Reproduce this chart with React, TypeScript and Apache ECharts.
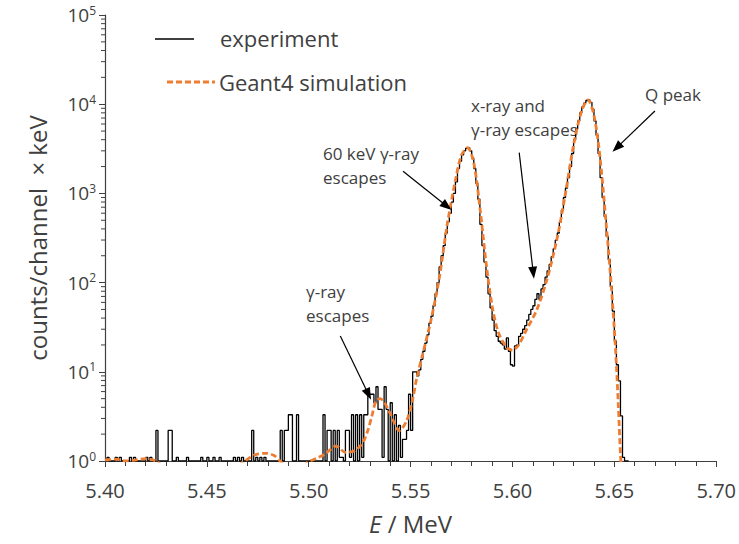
import React, { useEffect, useRef } from "react";
import * as echarts from "echarts";

// ---------------- data ----------------
// experiment: counts per 1 keV channel starting at 5.400 MeV (empty channels drawn at the 10^0 baseline)
const expStartE = 5.4;
const expBinWidth = 0.001;
const expCounts = [
  1, 1.1, 1, 1, 1, 1.1, 1, 1.1, 1, 1,
  1, 1, 1.1, 1, 1.1, 1, 1, 1, 1, 1,
  1.1, 1, 1.1, 1, 1, 2.2, 1, 1, 1, 1,
  1, 2.2, 2.2, 1, 1, 1.1, 1, 1, 1, 1,
  1.1, 1, 1, 1, 1, 1, 1, 1.1, 1, 1,
  1.1, 1, 1, 1.1, 1, 1, 1.1, 1, 1, 1,
  1, 1, 1, 1.1, 1, 1.1, 1, 1.1, 1, 1,
  1, 1, 2.2, 1, 1.1, 1, 1.1, 1, 1.1, 1,
  1, 1, 1, 1, 1, 1, 2.2, 1, 2.2, 2.2,
  3.3, 3.3, 1, 1, 3.3, 1, 1, 1, 1, 1,
  1, 1, 1, 1, 1, 1, 1, 3.3, 1, 2.2,
  2.2, 1, 2.2, 1, 2.2, 1.1, 1.1, 1, 2.2, 2.2,
  1.1, 3.3, 1, 3.3, 1, 3.3, 1.1, 3.3, 3.3, 5.6,
  5.6, 5.6, 4.5, 6.8, 3.8, 3.8, 1.1, 6.8, 3.8, 1,
  4.5, 1, 3.3, 1, 2.5, 1.1, 1.75, 1.75, 2.2, 5.6,
  2.2, 10, 10, 9, 10.5, 13.8, 17, 21, 26, 35,
  42, 55, 75, 100, 150, 200, 260, 360, 480, 600,
  800, 1000, 1350, 1900, 2300, 2700, 3000, 3200, 3260, 3000,
  2500, 1900, 1300, 860, 450, 260, 170, 115, 75, 52,
  38, 29, 25, 22, 21, 20, 18, 24, 17, 12,
  11.6, 19.5, 20, 25, 27, 30, 33, 38, 44, 50,
  55, 65, 75, 65, 85, 95, 115, 135, 160, 195,
  240, 300, 360, 480, 650, 900, 1150, 1500, 2000, 2800,
  4000, 5300, 6500, 8000, 9300, 10300, 11000, 11200, 10500, 8800,
  6500, 4500, 2800, 1500, 900, 550, 330, 180, 90, 48,
  22, 12, 7.9, 3.2, 1.1, 1, 1,
];

// Geant4 simulation curve
const simE = [
  5.4, 5.405, 5.41, 5.415, 5.42, 5.425, 5.43, 5.44, 5.45, 5.46, 5.466,
  5.47, 5.474, 5.479, 5.483, 5.486, 5.49, 5.495, 5.499, 5.503, 5.508,
  5.5135, 5.518, 5.5225, 5.5265, 5.529, 5.531, 5.533, 5.535, 5.537, 5.54,
  5.5445, 5.548, 5.551, 5.553, 5.556, 5.56, 5.564, 5.568, 5.572, 5.575,
  5.578, 5.581, 5.584, 5.587, 5.59, 5.593, 5.597, 5.6, 5.603, 5.607,
  5.612, 5.617, 5.622, 5.626, 5.63, 5.634, 5.637, 5.64, 5.643, 5.646,
  5.648, 5.65, 5.651, 5.652, 5.653, 5.654,
];
const simY = [
  1.02, 1.05, 1.0, 1.03, 1.06, 1.0, 0.8, 0.5, 0.4, 0.5, 0.9,
  1.05, 1.18, 1.22, 1.15, 1.0, 0.8, 0.7, 0.95, 1.05, 1.2,
  1.47, 1.25, 1.3, 1.6, 2.2, 3.2, 4.7, 5.0, 4.6, 3.4,
  2.2, 2.8, 4.9, 8.5, 16, 38, 110, 450, 1400, 2700,
  3250, 2200, 700, 170, 55, 28, 19, 17.5, 20, 30,
  50, 110, 320, 1000, 3500, 8500, 11200, 7500, 2500, 450,
  130, 30, 12, 4, 1.2, 0.5,
];

const xTickLabels = ["5.40", "5.45", "5.50", "5.55", "5.60", "5.65", "5.70"];
const yDecades = [1, 10, 100, 1000, 10000, 100000];
const yMinorMultipliers = [2, 3, 4, 5, 6, 7, 8, 9];

// annotation arrows in data coordinates [E, counts]
const arrowFrom = [
  [5.5463, 1770],
  [5.6033, 2866],
  [5.6699, 8390],
  [5.5155, 25.2],
];
const arrowTo = [
  [5.5678, 717],
  [5.6102, 129],
  [5.6512, 3260],
  [5.5293, 5.6],
];
const annotationTexts = ["60 keV γ-ray\nescapes", "x-ray and\nγ-ray escapes", "Q peak", "γ-ray\nescapes"];

const FONT = "'Open Sans', 'Noto Sans', sans-serif";
const TXT = "#404040";

export default function App() {
  const ref = useRef<HTMLDivElement | null>(null);

  useEffect(() => {
    document.body.style.margin = "0";
    if (!ref.current) return;
    const chart = echarts.init(ref.current, undefined, { renderer: "svg" });

    const expData: [number, number][] = expCounts.map((v, i) => [
      +(expStartE + i * expBinWidth).toFixed(4),
      v,
    ]);
    expData.push([+(expStartE + expCounts.length * expBinWidth).toFixed(4), expCounts[expCounts.length - 1]]);
    const simData = simE.map((e, i) => [e, simY[i]]);

    const minorData: [number, number][] = [];
    yDecades.slice(0, -1).forEach((d) =>
      yMinorMultipliers.forEach((m) => minorData.push([5.4, m * d]))
    );

    const arrowLines = arrowFrom.map((f, i) => [
      { coord: f, symbol: "none" },
      { coord: arrowTo[i], symbol: "triangle" },
    ]);

    const annPos = [
      [323, 165],
      [471, 117],
      [645, 94],
      [306, 303],
    ];

    chart.setOption({
      animation: false,
      backgroundColor: "#ffffff",
      grid: { left: 105, right: 19, top: 15, bottom: 83, containLabel: false },
      xAxis: {
        type: "value",
        min: 5.4,
        max: 5.7,
        interval: 0.05,
        name: "{i|E} / MeV",
        nameLocation: "middle",
        nameGap: 50,
        nameTextStyle: {
          color: TXT,
          fontSize: 24,
          fontFamily: FONT,
          rich: { i: { fontStyle: "italic", fontSize: 24, fontFamily: FONT, color: TXT } },
        },
        axisLine: { show: true, lineStyle: { color: TXT, width: 1.2 } },
        axisTick: { show: true, length: 6, lineStyle: { color: TXT } },
        minorTick: { show: true, splitNumber: 5, length: 5, lineStyle: { color: TXT } },
        splitLine: { show: false },
        axisLabel: {
          color: TXT,
          fontSize: 20,
          fontFamily: FONT,
          margin: 19,
          formatter: (v: number) => {
            const idx = Math.round((v - 5.4) / 0.05);
            return xTickLabels[idx] ?? v.toFixed(2);
          },
        },
      },
      yAxis: {
        type: "log",
        logBase: 10,
        min: 1,
        max: 100000,
        name: "counts/channel  × keV",
        nameLocation: "middle",
        nameGap: 56,
        nameTextStyle: { color: TXT, fontSize: 24, fontFamily: FONT },
        axisLine: { show: true, lineStyle: { color: TXT, width: 1.2 } },
        axisTick: { show: true, length: 6, lineStyle: { color: TXT } },
        splitLine: { show: false },
        axisLabel: {
          margin: 9,
          formatter: (v: number) => `{b|10}{s|${Math.round(Math.log10(v))}}`,
          rich: {
            b: { fontSize: 19, fontFamily: FONT, color: TXT, lineHeight: 22 },
            s: { fontSize: 12, fontFamily: FONT, color: TXT, verticalAlign: "top", lineHeight: 12, padding: [0, 0, 10, 0] },
          },
        },
      },
      graphic: [
        { type: "line", shape: { x1: 155, y1: 39, x2: 194, y2: 39 }, style: { stroke: "#000", lineWidth: 1.3 } },
        {
          type: "text",
          x: 220,
          y: 38,
          style: { text: "experiment", fill: TXT, fontSize: 22, fontFamily: FONT, verticalAlign: "middle" },
        },
        {
          type: "line",
          shape: { x1: 167, y1: 82, x2: 215, y2: 82 },
          style: { stroke: "#ED7D31", lineWidth: 2.8, lineDash: [6, 3] },
        },
        {
          type: "text",
          x: 219,
          y: 82,
          style: { text: "Geant4 simulation", fill: TXT, fontSize: 22, fontFamily: FONT, verticalAlign: "middle" },
        },
        ...annotationTexts.map((t, i) => ({
          type: "text",
          x: annPos[i][0],
          y: annPos[i][1],
          style: { text: t, fill: TXT, fontSize: 17, fontFamily: FONT, verticalAlign: "middle", lineHeight: 24 },
        })),
      ],
      series: [
        {
          name: "experiment",
          type: "line",
          step: "end",
          data: expData,
          showSymbol: false,
          clip: true,
          lineStyle: { color: "#000000", width: 1.3 },
          itemStyle: { color: "#000000" },
          z: 2,
          markLine: {
            silent: true,
            symbolSize: [9, 12],
            label: { show: false },
            lineStyle: { color: "#000000", width: 1.2, type: "solid" },
            data: arrowLines,
          },
        },
        {
          name: "Geant4 simulation",
          type: "line",
          data: simData,
          smooth: 0.3,
          showSymbol: false,
          clip: true,
          lineStyle: { color: "#ED7D31", width: 2.8, type: [6, 3] },
          itemStyle: { color: "#ED7D31" },
          z: 3,
        },
        {
          name: "yMinorTicks",
          type: "custom",
          data: minorData,
          silent: true,
          clip: false,
          renderItem: (params: any, api: any) => {
            const p = api.coord([api.value(0), api.value(1)]);
            return {
              type: "line",
              shape: { x1: p[0] - 4, y1: p[1], x2: p[0], y2: p[1] },
              style: { stroke: TXT, lineWidth: 1 },
            };
          },
          z: 1,
        },
      ],
    });

    return () => chart.dispose();
  }, []);

  return <div ref={ref} style={{ width: 739, height: 544 }} />;
}
